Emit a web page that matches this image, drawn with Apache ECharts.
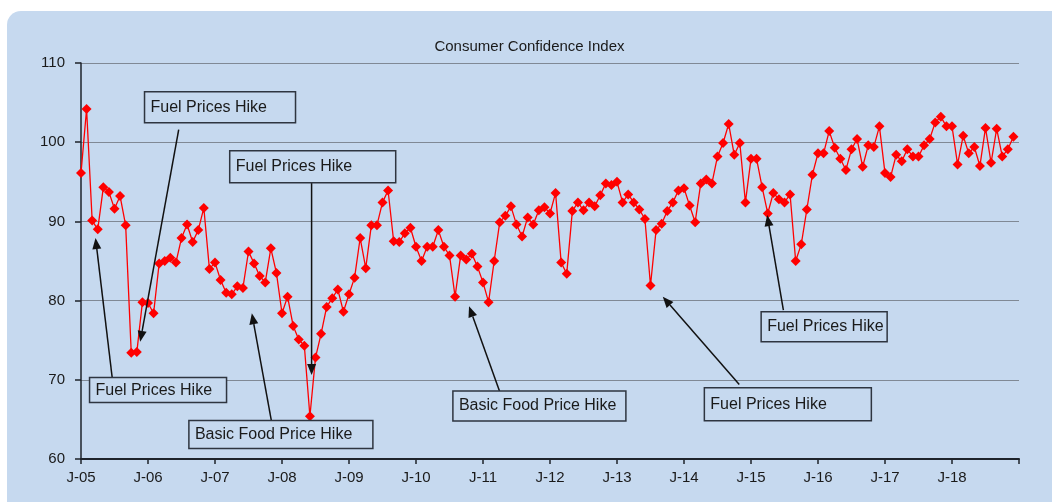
<!DOCTYPE html>
<html>
<head>
<meta charset="utf-8">
<script src="https://cdn.jsdelivr.net/npm/echarts@6/dist/echarts.min.js"></script>
<style>
  html, body { margin: 0; padding: 0; background: #ffffff; }
  #chart {
    position: absolute;
    left: 7px;
    top: 11px;
    width: 1045px;
    height: 491px;
    background: #c6d9ef;
    border-radius: 14px 0 0 0;
  }
</style>
</head>
<body>
<div id="chart"></div>
<script>
// x axis labels, one per January
const yearLabels = ['J-05', 'J-06', 'J-07', 'J-08', 'J-09', 'J-10', 'J-11',
  'J-12', 'J-13', 'J-14', 'J-15', 'J-16', 'J-17', 'J-18']

// monthly index values, Jan 2005 .. Dec 2018
const cci = [
  96.1, 104.2, 90.1, 89.0, 94.3, 93.7, 91.6, 93.2, 89.5, 73.4, 73.5, 79.8,
  79.7, 78.4, 84.7, 85.0, 85.4, 84.8, 87.9, 89.6, 87.4, 88.9, 91.7, 84.0,
  84.8, 82.6, 81.0, 80.8, 81.8, 81.6, 86.2, 84.7, 83.1, 82.3, 86.6, 83.5,
  78.4, 80.5, 76.8, 75.1, 74.3, 65.4, 72.8, 75.8, 79.2, 80.3, 81.4, 78.6,
  80.8, 82.9, 87.9, 84.1, 89.5, 89.5, 92.4, 93.9, 87.5, 87.4, 88.5, 89.2,
  86.8, 85.0, 86.8, 86.8, 88.9, 86.8, 85.7, 80.5, 85.7, 85.2, 85.9, 84.3,
  82.3, 79.8, 85.0, 89.9, 90.7, 91.9, 89.6, 88.1, 90.5, 89.6, 91.4, 91.8,
  91.0, 93.6, 84.8, 83.4, 91.3, 92.4, 91.4, 92.4, 91.9, 93.3, 94.8, 94.6,
  95.0, 92.4, 93.4, 92.4, 91.5, 90.3, 81.9, 88.9, 89.7, 91.3, 92.4, 93.9,
  94.2, 92.0, 89.9, 94.8, 95.3, 94.8, 98.2, 99.9, 102.3, 98.4, 99.9, 92.4,
  97.9, 97.9, 94.3, 91.0, 93.6, 92.8, 92.4, 93.4, 85.0, 87.1, 91.5, 95.9,
  98.6, 98.6, 101.4, 99.3, 97.9, 96.5, 99.1, 100.4, 96.9, 99.6, 99.4, 102.0,
  96.1, 95.6, 98.4, 97.6, 99.1, 98.2, 98.2, 99.6, 100.4, 102.5, 103.2, 102.0,
  102.0, 97.2, 100.8, 98.6, 99.4, 97.0, 101.8, 97.4, 101.7, 98.2, 99.1, 100.7,
]

// callouts: box centre and arrow ends in [month index, value]
const callouts = [
  { text: 'Fuel Prices Hike', box: [24.9, 104.4], w: 151, h: 31, from: [17.5, 101.6], to: [10.6, 74.8] },
  { text: 'Fuel Prices Hike', box: [41.5, 96.9], w: 166, h: 32, from: [41.3, 94.9], to: [41.3, 70.6] },
  { text: 'Fuel Prices Hike', box: [13.8, 68.7], w: 137, h: 25, from: [5.6, 70.2], to: [2.6, 87.9] },
  { text: 'Basic Food Price Hike', box: [35.8, 63.1], w: 184, h: 28, from: [34.1, 64.8], to: [30.6, 78.4] },
  { text: 'Basic Food Price Hike', box: [82.1, 66.7], w: 173, h: 30, from: [75.0, 68.5], to: [69.5, 79.3] },
  { text: 'Fuel Prices Hike', box: [126.6, 66.9], w: 167, h: 33, from: [117.9, 69.4], to: [104.2, 80.5] },
  { text: 'Fuel Prices Hike', box: [133.1, 76.7], w: 126, h: 30, from: [125.8, 78.8], to: [122.9, 90.8] },
]

const font = "'Liberation Sans', Arial, sans-serif"
const panelColor = '#c6d9ef'
const boxStroke = '#2e3540'

const chart = echarts.init(document.getElementById('chart'))

const option = {
  animation: false,
  backgroundColor: 'transparent',
  textStyle: { fontFamily: font },
  title: {
    text: 'Consumer Confidence Index',
    left: 'center',
    top: 23,
    textStyle: { fontFamily: font, fontSize: 15, fontWeight: 'normal', color: '#1a1a1a' },
  },
  grid: { left: 74, right: 33, top: 52, bottom: 43 },
  xAxis: {
    type: 'value',
    min: 0,
    max: 168,
    interval: 12,
    axisLine: { lineStyle: { color: '#1e232b', width: 2 } },
    axisTick: { show: true, length: 5, lineStyle: { color: '#1e232b', width: 1.5 } },
    axisLabel: {
      color: '#1a1a1a',
      fontSize: 15,
      margin: 11,
      formatter: (v) => yearLabels[v / 12] || '',
    },
    splitLine: { show: false },
  },
  yAxis: {
    type: 'value',
    min: 60,
    max: 110,
    interval: 10,
    axisLine: { show: true, lineStyle: { color: '#1e232b', width: 1.5 } },
    axisTick: { show: true, length: 6, lineStyle: { color: '#1e232b', width: 1.5 } },
    axisLabel: { color: '#1a1a1a', fontSize: 15, margin: 16 },
    splitLine: { lineStyle: { color: '#808995', width: 1.2 } },
  },
  series: [
    {
      type: 'line',
      data: cci.map((v, i) => [i, v]),
      symbol: 'diamond',
      symbolSize: [10, 10],
      itemStyle: { color: '#ff0000' },
      lineStyle: { color: '#ff0000', width: 1.3 },
      z: 3,
    },
  ],
}

chart.setOption(option)

// callout boxes and arrows, placed through the chart's own scales
const graphics = []
callouts.forEach((c) => {
  const [cx, cy] = chart.convertToPixel({ gridIndex: 0 }, c.box)
  const [x1, y1] = chart.convertToPixel({ gridIndex: 0 }, c.from)
  const [x2, y2] = chart.convertToPixel({ gridIndex: 0 }, c.to)
  const dx = x2 - x1
  const dy = y2 - y1
  const len = Math.sqrt(dx * dx + dy * dy)
  const ux = dx / len
  const uy = dy / len
  const headLen = 11
  const headHalf = 4.5
  const bx = x2 - ux * headLen
  const by = y2 - uy * headLen

  graphics.push({
    type: 'line',
    shape: { x1: x1, y1: y1, x2: bx, y2: by },
    style: { stroke: '#111', lineWidth: 1.5 },
    z: 10,
  })
  graphics.push({
    type: 'polygon',
    shape: {
      points: [
        [x2, y2],
        [bx - uy * headHalf, by + ux * headHalf],
        [bx + uy * headHalf, by - ux * headHalf],
      ],
    },
    style: { fill: '#111' },
    z: 10,
  })
  graphics.push({
    type: 'rect',
    shape: { x: cx - c.w / 2, y: cy - c.h / 2, width: c.w, height: c.h },
    style: { fill: panelColor, stroke: boxStroke, lineWidth: 1.5 },
    z: 11,
  })
  graphics.push({
    type: 'text',
    x: cx - c.w / 2 + 6,
    y: cy,
    style: {
      text: c.text,
      fontFamily: font,
      fontSize: 16,
      fill: '#1a1a1a',
      verticalAlign: 'middle',
    },
    z: 12,
  })
})

chart.setOption({ graphic: graphics })
</script>
</body>
</html>
